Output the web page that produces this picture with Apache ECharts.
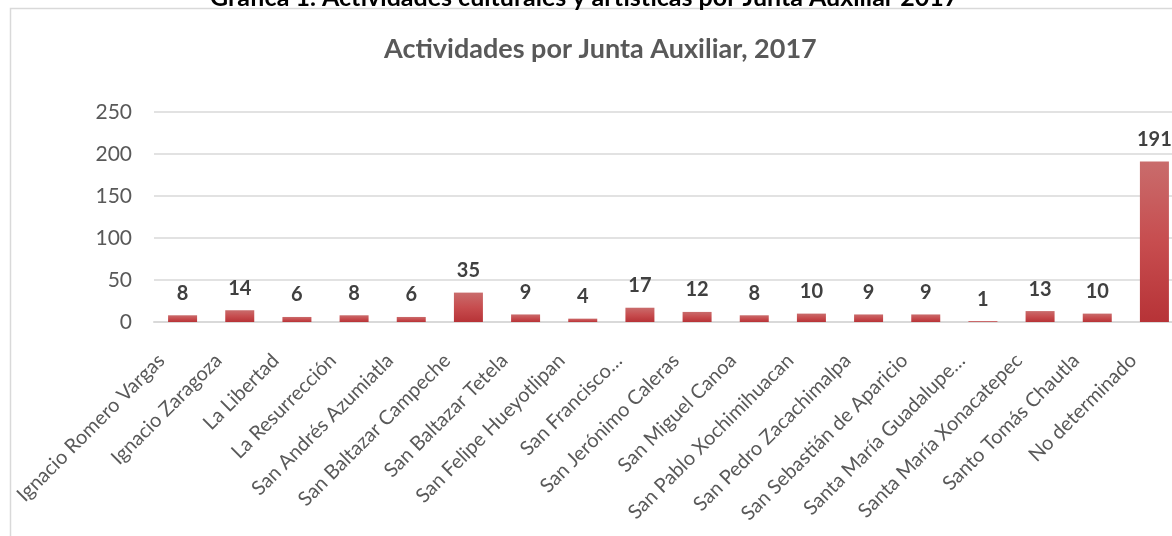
<!DOCTYPE html>
<html>
<head>
    <meta charset="utf-8">
    <title>Actividades por Junta Auxiliar, 2017</title>
    <script src="https://cdn.jsdelivr.net/npm/echarts@6/dist/echarts.min.js"></script>
    <style>
        html, body { margin: 0; padding: 0; background: #fff; }
        #main { width: 1172px; height: 536px; }
    </style>
</head>
<body>
    <div id="main"></div>
    <script type="text/javascript">
        // categories (as shown on the axis, truncated ones included)
        var juntas = [
            'Ignacio Romero Vargas', 'Ignacio Zaragoza', 'La Libertad', 'La Resurrección',
            'San Andrés Azumiatla', 'San Baltazar Campeche', 'San Baltazar Tetela',
            'San Felipe Hueyotlipan', 'San Francisco…', 'San Jerónimo Caleras',
            'San Miguel Canoa', 'San Pablo Xochimihuacan', 'San Pedro Zacachimalpa',
            'San Sebastián de Aparicio', 'Santa María Guadalupe…', 'Santa María Xonacatepec',
            'Santo Tomás Chautla', 'No determinado'
        ];
        var actividades = [8, 14, 6, 8, 6, 35, 9, 4, 17, 12, 8, 10, 9, 9, 1, 13, 10, 191];
        var yTicks = { min: 0, max: 250, interval: 50 };

        var myChart = echarts.init(document.getElementById('main'));

        var option = {
            animation: false,
            textStyle: { fontFamily: 'Lato' },
            title: [{
                // caption above the chart, cut off at the top of the picture
                text: 'Gráfica 1. Actividades culturales y artísticas por Junta Auxiliar 2017',
                left: 205,
                top: -20,
                textStyle: { fontSize: 25, fontWeight: 'bold', color: '#000', fontFamily: 'Lato' }
            }, {
                text: 'Actividades por Junta Auxiliar, 2017',
                left: 379,
                top: 31,
                textStyle: { fontSize: 27, fontWeight: 'bold', color: '#595959', fontFamily: 'Lato' }
            }],
            graphic: [{
                type: 'rect',
                shape: { x: 10.5, y: 8.5, width: 1200, height: 600 },
                style: { fill: 'none', stroke: '#d9d9d9', lineWidth: 1.5 },
                z: -1
            }],
            // plot runs past the right edge of the picture, as in the reference
            grid: { left: 154, width: 1029, top: 112, height: 210, outerBoundsMode: 'none' },
            xAxis: {
                type: 'category',
                data: juntas,
                axisTick: { show: false },
                axisLine: { show: true, lineStyle: { color: '#d9d9d9', width: 2 } },
                axisLabel: {
                    interval: 0,
                    rotate: 45,
                    margin: 14,
                    padding: [0, 30, 0, 0],
                    fontSize: 20,
                    color: '#595959'
                }
            },
            yAxis: {
                type: 'value',
                min: yTicks.min,
                max: yTicks.max,
                interval: yTicks.interval,
                axisLine: { show: false },
                axisTick: { show: false },
                axisLabel: { fontSize: 21, color: '#595959', margin: 22 },
                splitLine: { lineStyle: { color: '#d9d9d9', width: 1.5 } }
            },
            series: [{
                type: 'bar',
                data: actividades,
                barWidth: 29,
                itemStyle: {
                    color: new echarts.graphic.LinearGradient(0, 0, 0, 1, [
                        { offset: 0, color: '#c96c6c' },
                        { offset: 0.5, color: '#c74d4f' },
                        { offset: 1, color: '#b73337' }
                    ])
                },
                label: {
                    show: true,
                    position: 'top',
                    distance: 12,
                    fontSize: 20,
                    fontWeight: 'bold',
                    color: '#404040'
                }
            }]
        };

        myChart.setOption(option);
    </script>
</body>
</html>
